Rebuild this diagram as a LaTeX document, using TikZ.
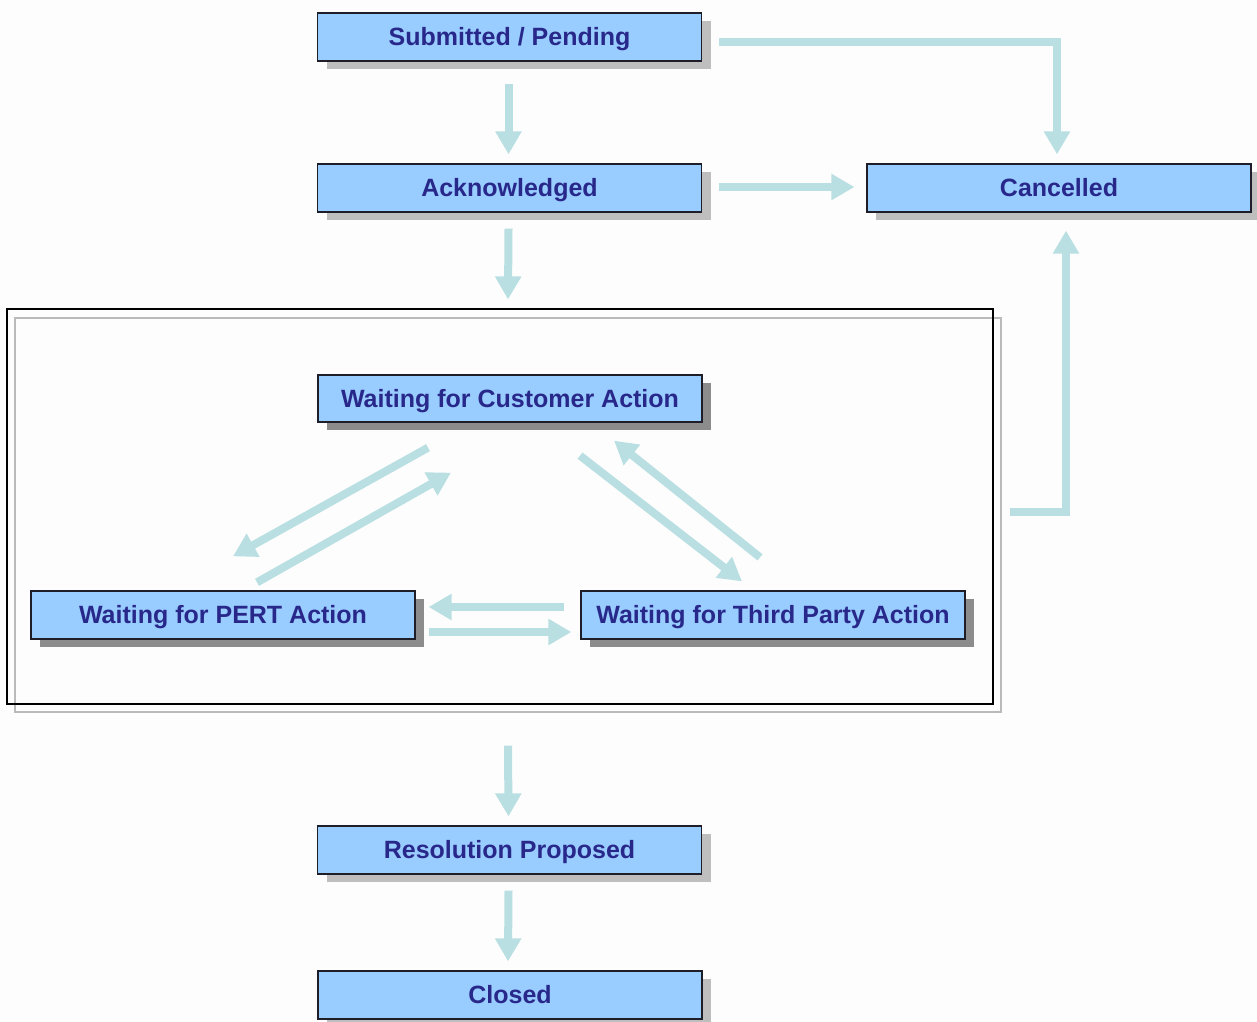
\documentclass[tikz,border=0pt]{standalone}
\usepackage{fontspec}
\setmainfont{Liberation Sans}
\usetikzlibrary{arrows.meta,calc,shadows}
\definecolor{boxfill}{RGB}{153,204,255}
\definecolor{boxline}{RGB}{30,30,40}
\definecolor{txt}{RGB}{40,40,138}
\definecolor{arr}{RGB}{185,223,226}
\definecolor{shlight}{RGB}{190,190,190}
\definecolor{shdark}{RGB}{140,140,140}
\definecolor{bg}{RGB}{253,253,253}
\tikzset{
  state/.style={draw=boxline, line width=1.3pt, fill=boxfill, minimum width=384pt, minimum height=48pt,
    inner sep=0pt, text height=17pt, text depth=0pt, text=txt, font=\fontsize{25}{30}\selectfont\bfseries},
  lightsh/.style={drop shadow={shadow xshift=9pt, shadow yshift=-8pt, fill=shlight, opacity=1}},
  darksh/.style={drop shadow={shadow xshift=9pt, shadow yshift=-8pt, fill=shdark, opacity=1}},
  flow/.style={draw=arr, line width=8pt, -{Triangle[width=25pt,length=23pt]}},
}
\begin{document}
\begin{tikzpicture}[x=1pt,y=-1pt]
\fill[bg] (0,0) rectangle (1257,1021);
\useasboundingbox (0,0) rectangle (1257,1021);
% group frame
\draw[shdark!60, line width=1.2pt] (15,318) rectangle (1001,712);
\node[draw=black, line width=1.2pt, minimum width=986pt, minimum height=395pt, inner sep=0pt] (frame) at (500,506.5) {};
% states
\node[state, lightsh] (sub) at (509.5,37) {Submitted / Pending};
\node[state, lightsh] (ack) at (509.5,188) {Acknowledged};
\node[state, lightsh] (can) at (1059,188) {Cancelled};
\node[state, darksh, minimum height=47pt] (cust) at (510,398.5) {Waiting for Customer Action};
\node[state, darksh] (pert) at (223,615) {Waiting for PERT Action};
\node[state, darksh] (third) at (773,615) {Waiting for Third Party Action};
\node[state, lightsh] (res) at (509.5,850) {Resolution Proposed};
\node[state, lightsh] (closed) at (510,995) {Closed};
% connectors
\draw[flow] ($(sub.south)+(-1,22)$) -- ($(ack.north)+(-1,-9)$);
\draw[flow] ($(ack.south)+(-1,16)$) -- ($(frame.north)+(8,-9)$);
\draw[flow] ($(frame.south)+(8,41)$) -- ($(res.north)+(-1,-9)$);
\draw[flow] ($(res.south)+(-1,16)$) -- ($(closed.north)+(-2,-9)$);
\draw[flow] ($(sub.east)+(17,5)$) -| ($(can.north)+(-2,-9)$);
\draw[flow] ($(ack.east)+(17,-1)$) -- ($(can.west)+(-12,-1)$);
\draw[flow] ($(frame.east)+(16,5.5)$) -| ($(can.south)+(7,18)$);
\draw[flow] ($(cust.south)+(-82,25)$) -- ($(pert.north)+(10,-34)$);
\draw[flow] ($(pert.north)+(34,-8)$) -- ($(cust.south)+(-59,50)$);
\draw[flow] ($(cust.south)+(70,33)$) -- ($(third.north)+(-31,-9)$);
\draw[flow] ($(third.north)+(-13,-33)$) -- ($(cust.south)+(104,18)$);
\draw[flow] ($(third.west)+(-16,-8)$) -- ($(pert.east)+(13,-8)$);
\draw[flow] ($(pert.east)+(13,17)$) -- ($(third.west)+(-9,17)$);
\end{tikzpicture}
\end{document}
